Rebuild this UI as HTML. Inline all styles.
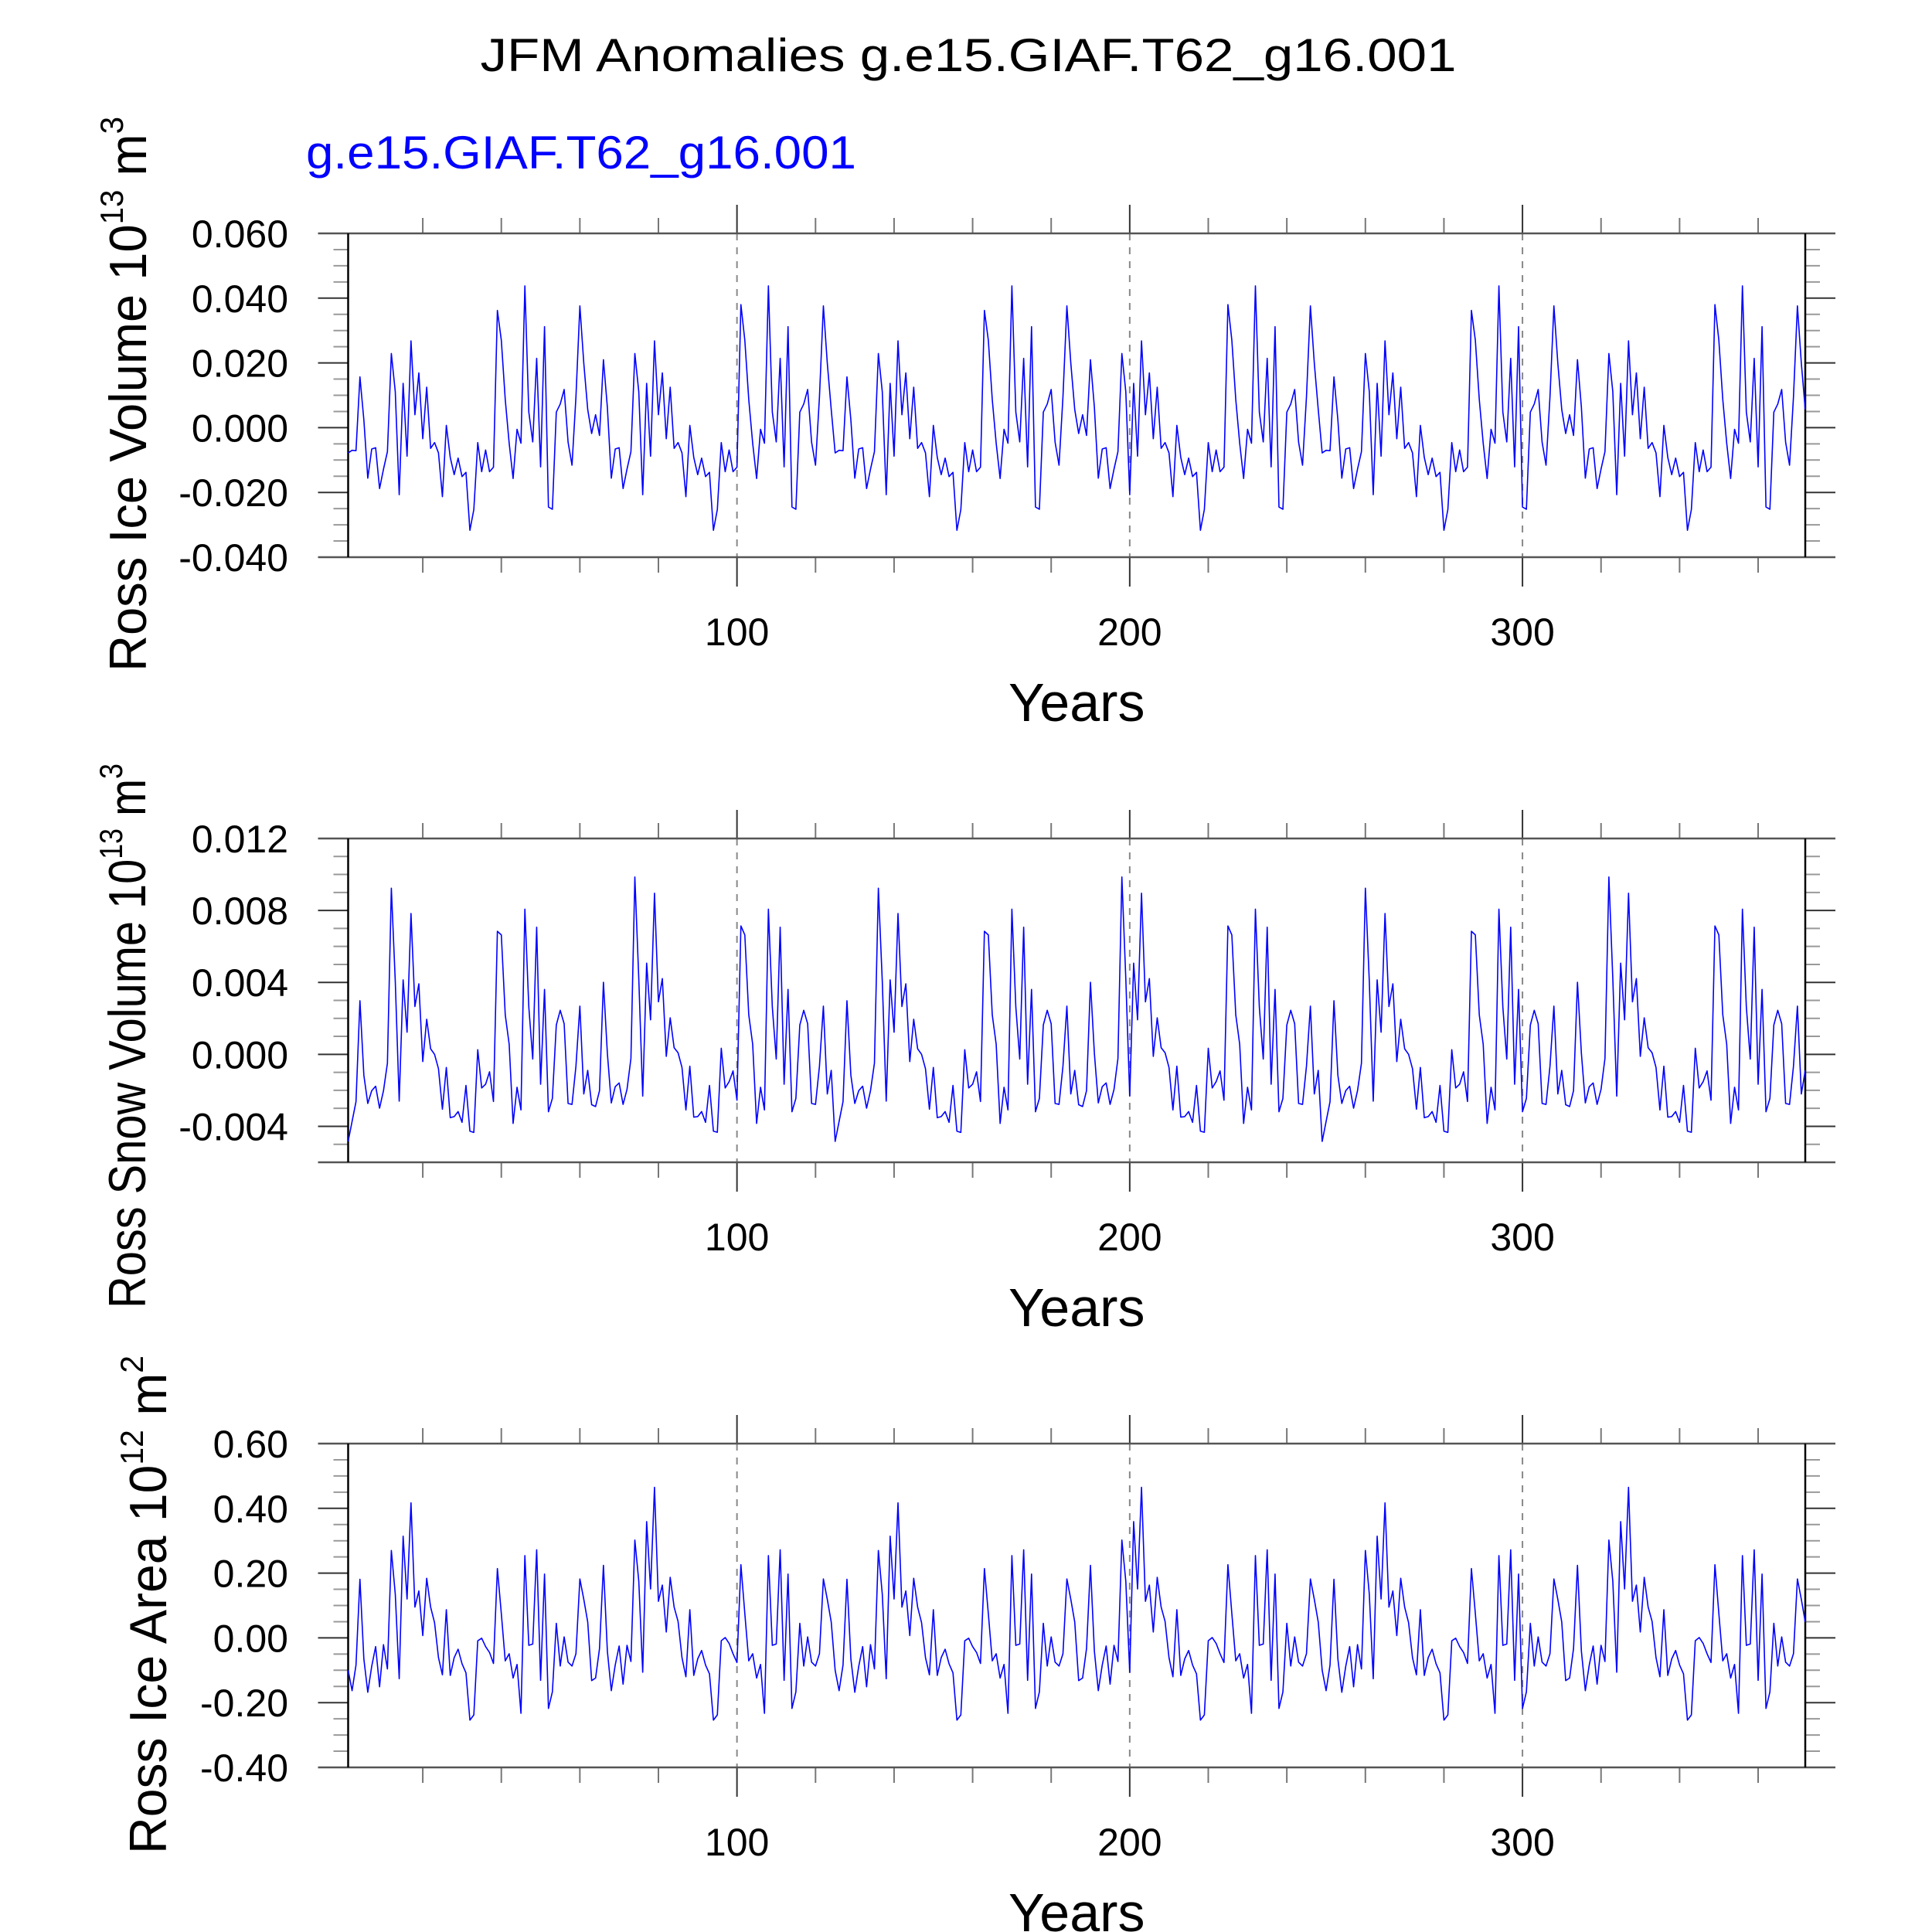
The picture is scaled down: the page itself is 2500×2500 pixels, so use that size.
<!DOCTYPE html>
<html><head><meta charset="utf-8"><title>JFM Anomalies</title>
<style>html,body{margin:0;padding:0;background:#fff}svg{display:block}text{font-family:"Liberation Sans",sans-serif}</style>
</head><body>
<svg id="chart" xmlns="http://www.w3.org/2000/svg" width="2500" height="2500" viewBox="0 0 2500 2500">
<rect x="0" y="0" width="2500" height="2500" fill="#fff"/>
<text x="1253" y="92" font-size="60" text-anchor="middle" textLength="1263" lengthAdjust="spacingAndGlyphs">JFM Anomalies g.e15.GIAF.T62_g16.001</text>
<text x="396" y="218" font-size="60" fill="#0000ff" textLength="712" lengthAdjust="spacingAndGlyphs">g.e15.GIAF.T62_g16.001</text>
</svg>
<script>
const iceVolA = [-0.0078,-0.0070,-0.0071,0.0157,0.0024,-0.0156,-0.0066,-0.0062,-0.0188,-0.0128,-0.0074,0.0229,0.0111,-0.0207,0.0137,-0.0088,0.0268,0.0040,0.0169,-0.0034,0.0125,-0.0064,-0.0046,-0.0078,-0.0213,0.0007,-0.0092,-0.0145,-0.0094,-0.0151,-0.0138,-0.0317,-0.0253,-0.0046,-0.0136,-0.0069,-0.0136,-0.0122,0.0362,0.0270,0.0087,-0.0048,-0.0157,-0.0005,-0.0048,0.0438,0.0048,-0.0044,0.0214,-0.0121,0.0312,-0.0245,-0.0252,0.0048,0.0073,0.0118,-0.0045,-0.0116,0.0095,0.0376,0.0199,0.0056];
const iceVolB = [-0.0018,0.0040,-0.0024,0.0210,0.0063,-0.0156,-0.0066,-0.0062,-0.0188,-0.0128,-0.0074,0.0229,0.0111,-0.0207,0.0137,-0.0088,0.0268,0.0040,0.0169,-0.0034,0.0125,-0.0064,-0.0046,-0.0078,-0.0213,0.0007,-0.0092,-0.0145,-0.0094,-0.0151,-0.0138,-0.0317,-0.0253,-0.0046,-0.0136,-0.0069,-0.0136,-0.0122,0.0380,0.0270,0.0087,-0.0048,-0.0157,-0.0005,-0.0048,0.0438,0.0048,-0.0044,0.0214,-0.0121,0.0312,-0.0245,-0.0252,0.0048,0.0073,0.0118,-0.0045,-0.0116,0.0095,0.0376,0.0199,0.0056];
const snowVolA = [-0.00484,-0.00373,-0.00263,0.00298,-0.00116,-0.00273,-0.00202,-0.00177,-0.00299,-0.00202,-0.00049,0.00924,0.00406,-0.00260,0.00414,0.00123,0.00783,0.00266,0.00392,-0.00040,0.00195,0.00031,0.0,-0.00080,-0.00305,-0.00073,-0.00352,-0.00346,-0.00318,-0.00378,-0.00173,-0.00427,-0.00434,0.00026,-0.00187,-0.00166,-0.00097,-0.00262,0.00684,0.00664,0.00220,0.00056,-0.00384,-0.00183,-0.00309,0.00807,0.00263,-0.00026,0.00707,-0.00166,0.00361,-0.00319,-0.00245,0.00163,0.00245,0.00170,-0.00273,-0.00278,-0.00066,0.00268,-0.00220,-0.00089];
const snowVolB = [-0.00280,-0.00290,-0.00202,0.00401,0.00006,-0.00270,-0.00180,-0.00159,-0.00278,-0.00195,-0.00023,0.00986,0.00421,-0.00232,0.00507,0.00192,0.00896,0.00292,0.00421,-0.00011,0.00203,0.00037,0.00009,-0.00073,-0.00309,-0.00066,-0.00349,-0.00346,-0.00318,-0.00378,-0.00173,-0.00427,-0.00433,0.00034,-0.00187,-0.00152,-0.00092,-0.00255,0.00714,0.00664,0.00220,0.00056,-0.00384,-0.00183,-0.00309,0.00807,0.00263,-0.00026,0.00707,-0.00166,0.00361,-0.00319,-0.00245,0.00163,0.00245,0.00170,-0.00273,-0.00278,-0.00066,0.00268,-0.00220,-0.00089];
const iceAreaA = [-0.100,-0.163,-0.084,0.181,-0.065,-0.168,-0.088,-0.027,-0.151,-0.021,-0.096,0.270,0.135,-0.126,0.314,0.120,0.417,0.095,0.145,0.007,0.184,0.095,0.047,-0.061,-0.114,0.087,-0.116,-0.061,-0.035,-0.080,-0.108,-0.254,-0.238,-0.009,-0.001,-0.027,-0.045,-0.079,0.214,0.075,-0.071,-0.049,-0.124,-0.082,-0.233,0.254,-0.023,-0.019,0.272,-0.131,0.197,-0.218,-0.167,0.045,-0.087,0.003,-0.075,-0.087,-0.049,0.182,0.119,0.049];
const iceAreaB = [-0.132,-0.124,-0.033,0.224,-0.041,-0.163,-0.084,-0.025,-0.143,-0.023,-0.073,0.302,0.175,-0.106,0.359,0.151,0.465,0.113,0.163,0.018,0.187,0.095,0.051,-0.061,-0.120,0.087,-0.116,-0.065,-0.039,-0.084,-0.111,-0.254,-0.238,-0.009,0.001,-0.017,-0.049,-0.076,0.226,0.075,-0.071,-0.049,-0.124,-0.082,-0.233,0.254,-0.023,-0.019,0.272,-0.131,0.197,-0.218,-0.167,0.045,-0.087,0.003,-0.075,-0.087,-0.049,0.182,0.119,0.049];
const xTickLabels = ["100","200","300"];
const xTickYears = [100,200,300];
const iceVolTicks = ["0.060","0.040","0.020","0.000","-0.020","-0.040"];
const snowVolTicks = ["0.012","0.008","0.004","0.000","-0.004"];
const iceAreaTicks = ["0.60","0.40","0.20","0.00","-0.20","-0.40"];

const iceVol = [].concat(iceVolA, iceVolB, iceVolA, iceVolB, iceVolA, iceVolB);
const snowVol = [].concat(snowVolA, snowVolB, snowVolA, snowVolB, snowVolA, snowVolB);
const iceArea = [].concat(iceAreaA, iceAreaB, iceAreaA, iceAreaB, iceAreaA, iceAreaB);

const NS = "http://www.w3.org/2000/svg";
const svg = document.getElementById("chart");
const X0 = 450.5, X1 = 2336, NYEARS = 372;
function xs(year){ return X0 + (year-1)*(X1-X0)/(NYEARS-1); }
function mk(tag, attrs, parent){
  const e = document.createElementNS(NS, tag);
  for (const k in attrs) e.setAttribute(k, attrs[k]);
  (parent||svg).appendChild(e);
  return e;
}

function panel(cfg){
  const g = mk("g", {});
  
  
  const top = cfg.top, bot = cfg.bottom;
  const ys = v => top + (cfg.ymax - v)/(cfg.ymax - cfg.ymin)*(bot - top);
  xTickYears.forEach(yr => {
    const l = mk("line", {x1:xs(yr), x2:xs(yr), y1:top, y2:bot, stroke:"#888", "stroke-width":2, "stroke-dasharray":"9 9"}, g);
    
    
  });
  for (let yr = 20; yr <= 360; yr += 20) {
    if (yr % 100 === 0) continue;
    const a = mk("line", {x1:xs(yr), x2:xs(yr), y1:top-20, y2:top, stroke:"#777", "stroke-width":2}, g);
    
    
    const b = mk("line", {x1:xs(yr), x2:xs(yr), y1:bot, y2:bot+20, stroke:"#777", "stroke-width":2}, g);
    
    
  }
  xTickYears.forEach((yr, i) => {
    const a = mk("line", {x1:xs(yr), x2:xs(yr), y1:top-37, y2:top, stroke:"#333", "stroke-width":2}, g);
    
    
    const b = mk("line", {x1:xs(yr), x2:xs(yr), y1:bot, y2:bot+38, stroke:"#333", "stroke-width":2}, g);
    
    
    const t = mk("text", {x:xs(yr), y:bot+114, "font-size":50, "text-anchor":"middle"}, g);
    t.textContent = xTickLabels[i];
    
    
  });
  const nMaj = cfg.ticks.length;
  for (let k = 0; k * cfg.minor <= (cfg.ymax - cfg.ymin) + 1e-9; k++) {
    const v = cfg.ymax - k*cfg.minor;
    const y = ys(v);
    const isMaj = (k % cfg.per) === 0;
    const len = isMaj ? 39 : 19;
    const col = isMaj ? "#333" : "#999";
    const a = mk("line", {x1:X0-len, x2:X0, y1:y, y2:y, stroke:col, "stroke-width":2}, g);
    
    
    const b = mk("line", {x1:X1, x2:X1+len, y1:y, y2:y, stroke:col, "stroke-width":2}, g);
    
    
    const mi = k / cfg.per;
    if (isMaj && mi < nMaj) {
      const t = mk("text", {x:373, y:y+18, "font-size":50, "text-anchor":"end"}, g);
      t.textContent = cfg.ticks[mi];
      
      
    }
  }
  const ft = mk("line", {x1:X0-39, x2:X1+39, y1:top, y2:top, stroke:"#555", "stroke-width":2.5}, g);
  
  
  const fb = mk("line", {x1:X0-39, x2:X1+39, y1:bot, y2:bot, stroke:"#555", "stroke-width":2.5}, g);
  
  
  const fl = mk("line", {x1:X0, x2:X0, y1:top, y2:bot, stroke:"#000", "stroke-width":2.5}, g);
  
  
  const fr = mk("line", {x1:X1, x2:X1, y1:top, y2:bot, stroke:"#000", "stroke-width":2.5}, g);
  
  
  const pts = cfg.data.map((v, i) => xs(i+1).toFixed(2) + "," + ys(v).toFixed(2)).join(" ");
  const pl = mk("polyline", {points:pts, fill:"none", stroke:"#0000ff", "stroke-width":1.6, "stroke-linejoin":"round"}, g);
  
  
  const xt = mk("text", {x:(X0+X1)/2, y:bot+212, "font-size":70, "text-anchor":"middle"}, g);
  xt.textContent = "Years";
  
  
  const yt = mk("text", {x:0, y:0, "font-size":68, "text-anchor":"start", textLength:cfg.tlen, lengthAdjust:"spacingAndGlyphs", transform:"translate(" + cfg.tx + "," + cfg.tbot + ") rotate(-90)"}, g);
  
  
  const s1 = mk("tspan", {}, yt); s1.textContent = cfg.label + " 10";
  const s2 = mk("tspan", {dy:-30, "font-size":42}, yt); s2.textContent = cfg.exp;
  const s3 = mk("tspan", {dy:30}, yt); s3.textContent = " m";
  const s4 = mk("tspan", {dy:-30, "font-size":42}, yt); s4.textContent = cfg.unit;
}

panel({name:"ice-volume-panel", top:302, bottom:721, ymax:0.06, ymin:-0.04, minor:0.005, per:4, ticks:iceVolTicks, data:iceVol, label:"Ross Ice Volume", exp:"13", unit:"3", tx:189, tbot:869, tlen:718});
panel({name:"snow-volume-panel", top:1085, bottom:1504, ymax:0.012, ymin:-0.006, minor:0.001, per:4, ticks:snowVolTicks, data:snowVol, label:"Ross Snow Volume", exp:"13", unit:"3", tx:188, tbot:1693, tlen:705});
panel({name:"ice-area-panel", top:1868, bottom:2287, ymax:0.6, ymin:-0.4, minor:0.05, per:4, ticks:iceAreaTicks, data:iceArea, label:"Ross Ice Area", exp:"12", unit:"2", tx:215, tbot:2399, tlen:645});
</script>
</body></html>
